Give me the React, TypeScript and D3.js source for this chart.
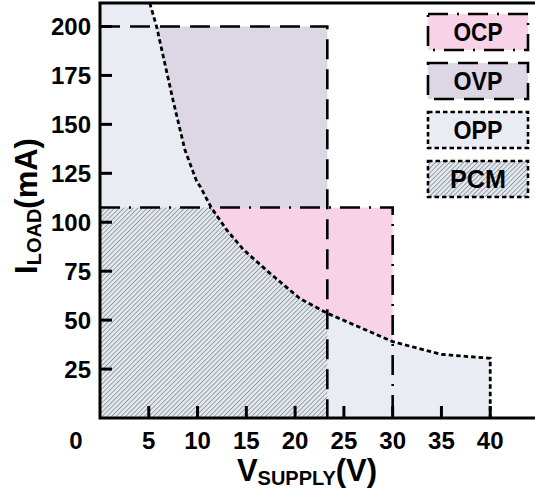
import React from "react";
import * as d3 from "d3";

// protection limits
const ovpV = 23.3; // V
const ovpI = 200; // mA
const ocpV = 30;
const ocpI = 107.5;

// power limit (OPP) boundary
const oppV = [5.1, 5.8, 7.5, 8.7, 9.9, 10.3, 11.4, 13, 14.7, 17.4, 20.5, 23.3, 27, 30, 35, 40];
const oppI = [212, 200, 162, 137, 121, 118, 107.5, 96, 86, 74, 61, 53.5, 45.5, 39, 32.5, 30.5];

const xTicks = [5, 10, 15, 20, 25, 30, 35, 40];
const yTicks = [25, 50, 75, 100, 125, 150, 175, 200];
const legendNames = ["OCP", "OVP", "OPP", "PCM"];

const W = 535;
const H = 499;
const FONT = "'Liberation Sans', Arial, sans-serif";

const colors: Record<string, string> = {
  OCP: "#f8d3e8",
  OVP: "#ddd6e4",
  OPP: "#e9edf3",
};
const dashes: Record<string, string> = {
  OCP: "20,9,2,9",
  OVP: "20,10",
  OPP: "4.5,3",
  PCM: "4.5,3",
};

const App = () => {
  const x = d3.scaleLinear().domain([0, 45]).range([100, 539]);
  const y = d3.scaleLinear().domain([0, 212]).range([418, 3]);

  const curve: [number, number][] = oppV.map((v, i) => [v, oppI[i]]);
  const line = d3
    .line<[number, number]>()
    .x((d) => x(d[0]))
    .y((d) => y(d[1]));

  // filled areas
  const oppArea = line([[0, 0], [0, 212], ...curve, [40, 0]] as [number, number][]) + "Z";
  const ovpRect = { x: x(0), y: y(ovpI), w: x(ovpV) - x(0), h: y(0) - y(ovpI) };
  const ocpRect = { x: x(0), y: y(ocpI), w: x(ocpV) - x(0), h: y(0) - y(ocpI) };
  const pcmRect = { x: x(0), y: y(ocpI), w: x(ovpV) - x(0), h: y(0) - y(ocpI) };

  // boundaries
  const ovpEdge = line([[0, ovpI], [ovpV, ovpI], [ovpV, 0]]) as string;
  const ocpEdge = line([[0, ocpI], [ocpV, ocpI], [ocpV, 0]]) as string;
  const oppEdge = line([...curve, [40, 0]]) as string;

  return (
    <svg width={W} height={H} style={{ display: "block", position: "absolute", left: 0, top: 0 }}>
      <defs>
        <pattern id="hatch" patternUnits="userSpaceOnUse" width={3.3} height={3.3} patternTransform="rotate(45)">
          <rect width={3.3} height={3.3} fill="#e5eaf0" />
          <line x1={0.5} y1={0} x2={0.5} y2={3.3} stroke="#80858d" strokeWidth={0.75} />
        </pattern>
        <clipPath id="plot">
          <rect x={x(0)} y={y(212)} width={x(45) - x(0)} height={y(0) - y(212)} />
        </clipPath>
        <clipPath id="underCurve">
          <path d={oppArea} />
        </clipPath>
      </defs>

      <rect width={W} height={H} fill="#fff" />

      <g clipPath="url(#plot)">
        <rect x={ovpRect.x} y={ovpRect.y} width={ovpRect.w} height={ovpRect.h} fill={colors.OVP} />
        <rect x={ocpRect.x} y={ocpRect.y} width={ocpRect.w} height={ocpRect.h} fill={colors.OCP} />
        <path d={oppArea} fill={colors.OPP} />
        <g clipPath="url(#underCurve)">
          <rect x={pcmRect.x} y={pcmRect.y} width={pcmRect.w} height={pcmRect.h} fill="url(#hatch)" />
        </g>

        <path d={ovpEdge} fill="none" stroke="#000" strokeWidth={2.6} strokeDasharray={dashes.OVP} />
        <path d={ocpEdge} fill="none" stroke="#000" strokeWidth={2.6} strokeDasharray={dashes.OCP} />
        <path d={oppEdge} fill="none" stroke="#000" strokeWidth={2.8} strokeDasharray={dashes.OPP} />
      </g>

      {/* frame and ticks */}
      <rect x={x(0)} y={y(212)} width={x(45) - x(0)} height={y(0) - y(212)} fill="none" stroke="#000" strokeWidth={3} />
      {yTicks.map((t) => (
        <g key={"y" + t}>
          <line x1={x(0)} x2={x(0) + 12} y1={y(t)} y2={y(t)} stroke="#000" strokeWidth={3} />
          <text x={x(0) - 9} y={y(t) + 8.5} textAnchor="end" fontFamily={FONT} fontWeight="bold" fontSize={24}>
            {t}
          </text>
        </g>
      ))}
      {xTicks.map((t) => (
        <g key={"x" + t}>
          <line x1={x(t)} x2={x(t)} y1={y(0)} y2={y(0) - 12} stroke="#000" strokeWidth={3} />
          <text x={x(t)} y={449} textAnchor="middle" fontFamily={FONT} fontWeight="bold" fontSize={24}>
            {t}
          </text>
        </g>
      ))}
      <text x={76} y={449} textAnchor="middle" fontFamily={FONT} fontWeight="bold" fontSize={24}>
        0
      </text>

      {/* axis titles */}
      <text x={307} y={481} textAnchor="middle" fontFamily={FONT} fontWeight="bold" fontSize={31}>
        V<tspan fontSize={20} dy={4}>SUPPLY</tspan>
        <tspan dy={-4}>(V)</tspan>
      </text>
      <text
        transform="translate(37,206) rotate(-90)"
        textAnchor="middle"
        fontFamily={FONT}
        fontWeight="bold"
        fontSize={31}
      >
        I<tspan fontSize={20} dy={4}>LOAD</tspan>
        <tspan dy={-4}>(mA)</tspan>
      </text>

      {/* legend */}
      {legendNames.map((name, i) => {
        const ly = 14 + i * 49;
        return (
          <g key={name}>
            <rect
              x={428}
              y={ly}
              width={100}
              height={36}
              fill={name === "PCM" ? "url(#hatch)" : colors[name]}
              stroke="#000"
              strokeWidth={2.6}
              strokeDasharray={dashes[name]}
            />
            <text
              x={478}
              y={ly + 27}
              textAnchor="middle"
              fontFamily={FONT}
              fontWeight="bold"
              fontSize={25}
              textLength={name === "PCM" ? 56 : 49}
              lengthAdjust="spacingAndGlyphs"
            >
              {name}
            </text>
          </g>
        );
      })}
    </svg>
  );
};

export default App;
